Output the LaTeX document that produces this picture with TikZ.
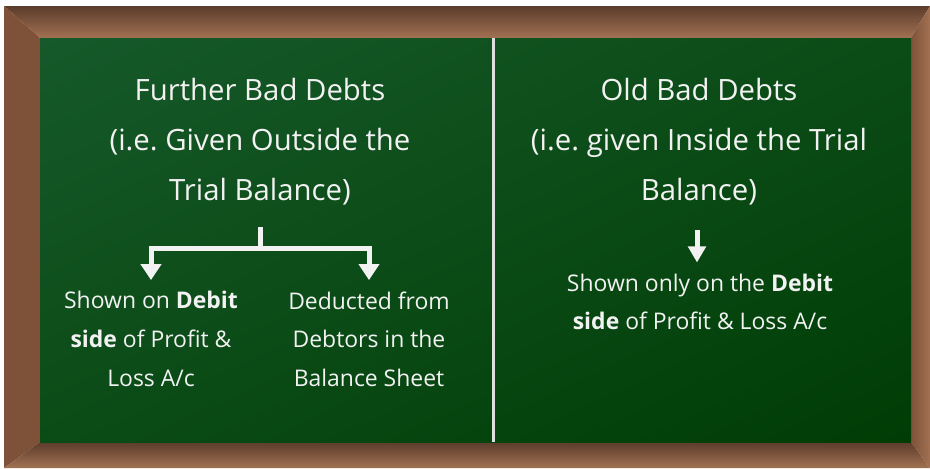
\documentclass[tikz,border=0pt]{standalone}
\usepackage{fontspec}
\setmainfont{Open Sans}
\frenchspacing
\usetikzlibrary{arrows.meta,positioning,shadings}

\definecolor{frameDark}{HTML}{5B3C2B}
\definecolor{frameLight}{HTML}{A27153}
\definecolor{frameMid}{HTML}{7E5239}
\definecolor{boardLight}{HTML}{16592A}
\definecolor{boardMid}{HTML}{0B4B16}
\definecolor{boardDark}{HTML}{003D05}
\definecolor{chalk}{HTML}{F2F2F2}

\tikzset{
	heading/.style={text=chalk, align=center, font=\fontsize{22}{37.5}\selectfont},
	chalktext/.style={text=chalk, align=center, font=\fontsize{17.2}{29}\selectfont},
	link/.style={draw=chalk, line width=3.75pt},
}

\begin{document}
\begin{tikzpicture}[x=0.75pt, y=-0.75pt, >={Triangle[width=15pt,length=12pt]}]

		\useasboundingbox (0,0) rectangle (930,468);
		\fill[white] (0,0) rectangle (930,468);

		% frame
		\shade[top color=frameDark, bottom color=frameLight] (4,6) -- (930,6) -- (911,38) -- (40,38) -- cycle;
		\shade[left color=frameMid, middle color=frameLight, right color=frameMid] (4,6) -- (40,38) -- (40,442) -- (4,468) -- cycle;
		\shade[top color=frameDark, bottom color=frameLight] (40,442) -- (911,442) -- (930,468) -- (4,468) -- cycle;
		\shade[left color=frameMid, right color=frameLight] (911,38) -- (930,6) -- (930,468) -- (911,442) -- cycle;

		% board
		\shade[upper left=boardLight, upper right=boardMid, lower left=boardMid, lower right=boardDark] (40,38) rectangle (911,442);

		% divider
		\draw[gray!25, line width=2.25pt] (493,38) -- (493,442);

		% headings
		\node [heading] (further) at (260,142) {Further Bad Debts\\(i.e. Given Outside the\\Trial Balance)};
		\node [heading] (old) at (699,142) {Old Bad Debts\\(i.e. given Inside the Trial\\Balance)};

		% treatments
		\node [chalktext] (shown) at (151,339) {Shown on \textbf{Debit}\\\textbf{side} of Profit \&\\Loss A/c};
		\node [chalktext] (deducted) at (369,339) {Deducted from\\Debtors in the\\Balance Sheet};
		\node [chalktext] (onlydebit) at (700,302) {Shown only on the \textbf{Debit}\\\textbf{side} of Profit \& Loss A/c};

		% arrows
		\coordinate (stem) at (260,227);
		\coordinate (split) at (260,248);
		\coordinate (oldstem) at (697,230);

		\draw [link] (stem) -- (split);
		\draw [link, ->, shorten >=5pt] (split) -| (shown.north);
		\draw [link, ->, shorten >=5pt] (split) -| (deducted.north);
		\draw [link, -{Triangle[width=13pt,length=12pt]}, shorten >=5pt] (oldstem) -- (oldstem |- onlydebit.north);

\end{tikzpicture}
\end{document}
